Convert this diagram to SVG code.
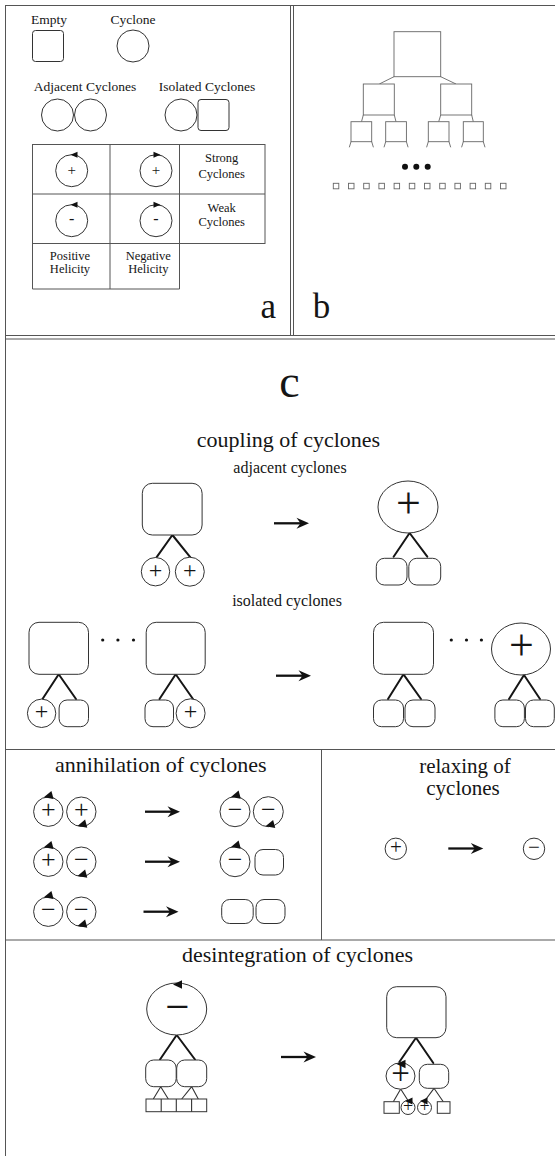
<svg xmlns="http://www.w3.org/2000/svg" xmlns:xlink="http://www.w3.org/1999/xlink" width="555" height="1156" viewBox="0 0 555 1156">
<defs>
<style>
.t{font-family:"Liberation Serif","Times New Roman",serif;fill:#151515}
.m{text-anchor:middle}
.s13{font-size:13.5px}.s12{font-size:12.5px}.s16{font-size:16px}.s22{font-size:22px}.s21{font-size:21px}.s35{font-size:35px}.s46{font-size:46px}
.fr{stroke:#555;stroke-width:1;fill:none}
.n{fill:#fff;stroke:#333;stroke-width:1}
.tb{fill:#fff;stroke:#666;stroke-width:0.9}
.tl{stroke:#666;stroke-width:0.9;fill:none}
.e{stroke:#151515;stroke-width:2;fill:none;stroke-linecap:round}
.e1{stroke:#333;stroke-width:1.1;fill:none}
.ah{fill:#111}
</style>
<path id="hs" d="M0,0 L7,-3 L7,3 Z"/>
<path id="hm" d="M0,0 L9,-4.2 L9,4.2 Z"/>
<path id="hx" d="M0,0 L7.5,-3.4 L7.5,3.4 Z"/>
<g id="arr"><line x1="0" y1="0" x2="30" y2="0" stroke="#111" stroke-width="2.3"/><path d="M35,0 L22.5,-5.5 L26.5,0 L22.5,5.5 Z" fill="#111"/></g>
</defs>
<rect width="555" height="1156" fill="#fff"/>

<g id="frame">
<line class="fr" x1="5" y1="5.5" x2="555" y2="5.5"/>
<line class="fr" x1="5.5" y1="5" x2="5.5" y2="1156"/>
<line class="fr" x1="290.5" y1="5" x2="290.5" y2="335.5"/>
<line class="fr" x1="293.5" y1="5" x2="293.5" y2="335.5"/>
<line class="fr" x1="5" y1="335.5" x2="555" y2="335.5"/>
<line class="fr" x1="5" y1="339" x2="555" y2="339"/>
<line class="fr" x1="5" y1="749.5" x2="555" y2="749.5"/>
<line class="fr" x1="321.5" y1="749.5" x2="321.5" y2="940"/>
<line class="fr" x1="5" y1="940" x2="555" y2="940"/>
</g>

<!-- Panel a -->
<g id="legend-empty">
<text class="t s13 m" x="49" y="24">Empty</text>
<rect class="n" x="32.5" y="30.5" width="31" height="31" rx="3"/>
</g>
<g id="legend-cyclone">
<text class="t s13 m" x="133" y="24">Cyclone</text>
<circle class="n" cx="133" cy="46" r="16"/>
</g>
<g id="legend-adjacent">
<text class="t s13 m" x="85" y="91">Adjacent Cyclones</text>
<circle class="n" cx="57.5" cy="115" r="16"/>
<circle class="n" cx="90.5" cy="115" r="16"/>
</g>
<g id="legend-isolated">
<text class="t s13 m" x="207" y="91">Isolated Cyclones</text>
<circle class="n" cx="181" cy="115" r="16"/>
<rect class="n" x="198" y="99.5" width="31" height="31" rx="3"/>
</g>
<g id="helicity-table">
<rect class="fr" x="32.5" y="144.5" width="232.5" height="99" stroke="#444"/>
<line class="fr" x1="32.5" y1="194" x2="265" y2="194" stroke="#444"/>
<line class="fr" x1="110" y1="144.5" x2="110" y2="289" stroke="#444"/>
<line class="fr" x1="179.5" y1="144.5" x2="179.5" y2="289" stroke="#444"/>
<line class="fr" x1="32.5" y1="243.5" x2="32.5" y2="289" stroke="#444"/>
<line class="fr" x1="32.5" y1="289" x2="179.5" y2="289" stroke="#444"/>
<text class="t s12 m" x="221.7" y="162">Strong</text>
<text class="t s12 m" x="221.7" y="177.7">Cyclones</text>
<text class="t s12 m" x="221.7" y="211.7">Weak</text>
<text class="t s12 m" x="221.7" y="226">Cyclones</text>
<text class="t s12 m" x="70" y="260">Positive</text>
<text class="t s12 m" x="70" y="272.7">Helicity</text>
<text class="t s12 m" x="148.3" y="260">Negative</text>
<text class="t s12 m" x="148.3" y="272.7">Helicity</text>
</g>
<g id="strong-positive">
<circle class="n" cx="71.7" cy="170.7" r="16"/>
<text class="t m" font-size="15" x="71.7" y="174.5">+</text>
<use href="#hs" class="ah" x="70.5" y="154.7"/>
</g>
<g id="strong-negative">
<circle class="n" cx="156" cy="170.7" r="16"/>
<text class="t m" font-size="15" x="156" y="174.5">+</text>
<use href="#hs" class="ah" transform="translate(160.5,154.7) scale(-1,1)"/>
</g>
<g id="weak-positive">
<circle class="n" cx="71.7" cy="220.7" r="16"/>
<text class="t m" font-size="16" x="71.7" y="224.3">-</text>
<use href="#hs" class="ah" x="70.5" y="204.7"/>
</g>
<g id="weak-negative">
<circle class="n" cx="156" cy="220.7" r="16"/>
<text class="t m" font-size="16" x="156" y="224.3">-</text>
<use href="#hs" class="ah" transform="translate(160.5,204.7) scale(-1,1)"/>
</g>
<text class="t s35 m" x="268.3" y="318">a</text>

<!-- Panel b -->
<g id="tree-connectors">
<line class="tl" x1="394" y1="76.7" x2="379.3" y2="84"/>
<line class="tl" x1="440.7" y1="76.7" x2="456" y2="84"/>
<line class="tl" x1="363.3" y1="115" x2="361.5" y2="121.7"/>
<line class="tl" x1="394.3" y1="115" x2="396" y2="121.7"/>
<line class="tl" x1="440.7" y1="115" x2="438.7" y2="121.7"/>
<line class="tl" x1="471.7" y1="115" x2="473.3" y2="121.7"/>
<path class="tl" d="M351,141.7 L349.3,147.3 M371.7,141.7 L373.4,147.3 M385.7,141.7 L384,147.3 M406.4,141.7 L408.1,147.3 M428.3,141.7 L426.6,147.3 M449,141.7 L450.7,147.3 M463.3,141.7 L461.6,147.3 M483.3,141.7 L485,147.3"/>
</g>
<g id="tree-root"><rect class="tb" x="394" y="31.7" width="46.7" height="45"/></g>
<g id="tree-l1-left"><rect class="tb" x="363.3" y="84" width="31" height="31"/></g>
<g id="tree-l1-right"><rect class="tb" x="440.7" y="84" width="31" height="31"/></g>
<g id="tree-l2-1"><rect class="tb" x="351" y="121.7" width="20.7" height="20"/></g>
<g id="tree-l2-2"><rect class="tb" x="385.7" y="121.7" width="20.7" height="20"/></g>
<g id="tree-l2-3"><rect class="tb" x="428.3" y="121.7" width="20.7" height="20"/></g>
<g id="tree-l2-4"><rect class="tb" x="463.3" y="121.7" width="20" height="20"/></g>
<g id="tree-dots" fill="#111">
<circle cx="405" cy="166.7" r="3"/><circle cx="416.3" cy="166.7" r="3"/><circle cx="427.7" cy="166.7" r="3"/>
</g>
<g id="tree-leaves" class="tb">
<rect x="333.3" y="183.3" width="5.5" height="5.5"/><rect x="348.5" y="183.3" width="5.5" height="5.5"/>
<rect x="363.7" y="183.3" width="5.5" height="5.5"/><rect x="378.9" y="183.3" width="5.5" height="5.5"/>
<rect x="394.1" y="183.3" width="5.5" height="5.5"/><rect x="409.3" y="183.3" width="5.5" height="5.5"/>
<rect x="424.5" y="183.3" width="5.5" height="5.5"/><rect x="439.7" y="183.3" width="5.5" height="5.5"/>
<rect x="454.9" y="183.3" width="5.5" height="5.5"/><rect x="470.1" y="183.3" width="5.5" height="5.5"/>
<rect x="485.3" y="183.3" width="5.5" height="5.5"/><rect x="500.5" y="183.3" width="5.5" height="5.5"/>
</g>
<text class="t s35 m" x="321.5" y="318">b</text>

<!-- Panel c -->
<text class="t s46 m" x="289.5" y="397">c</text>
<text class="t s22 m" x="288.5" y="446.5">coupling of cyclones</text>
<text class="t s16 m" x="290" y="473">adjacent cyclones</text>
<text class="t s16 m" x="287" y="605.7">isolated cyclones</text>
<text class="t s22 m" x="160.8" y="771.7">annihilation of cyclones</text>
<text class="t s21 m" x="465" y="772.5">relaxing of</text>
<text class="t s21 m" x="463" y="795">cyclones</text>
<text class="t s22 m" x="297.5" y="962">desintegration of cyclones</text>

<g id="connectors">
<!-- coupling adjacent -->
<path class="e" d="M172.4,535 L155.8,558.3 M172.4,535 L191.2,558.3"/>
<path class="e" d="M409.6,533 L393.6,556.7 M409.6,533 L427.3,556.7"/>
<use href="#arr" x="274" y="523.3"/>
<!-- coupling isolated -->
<path class="e" d="M58.7,674.3 L42.5,699 M58.7,674.3 L76,699"/>
<path class="e" d="M175.7,674.3 L159.5,699 M175.7,674.3 L193,699"/>
<use href="#arr" x="276" y="675.7"/>
<path class="e" d="M403.5,674.3 L388,699 M403.5,674.3 L421,699"/>
<path class="e" d="M524,675 L509,699 M524,675 L540,699"/>
<!-- annihilation -->
<use href="#arr" x="145" y="811.7"/>
<use href="#arr" x="145" y="861.7"/>
<use href="#arr" x="143.5" y="911.7"/>
<!-- relaxing -->
<use href="#arr" x="448.3" y="848.5"/>
<!-- desintegration -->
<path class="e" d="M176.7,1035 L160,1059.5 M176.7,1035 L195,1059.5"/>
<path class="e1" d="M160.7,1086.7 L153.3,1099 M160.7,1086.7 L168.3,1099 M191.7,1086.7 L181.7,1099 M191.7,1086.7 L198.3,1099"/>
<use href="#arr" x="281" y="1057"/>
<path class="e" d="M416,1037.7 L399.3,1062 M416,1037.7 L433.3,1063"/>
<path class="e1" d="M400.7,1089 L393.3,1101.7 M400.7,1089 L408,1100.5 M434,1088.3 L425,1100.5 M434,1088.3 L443.3,1101.7"/>
</g>

<g id="adj-before-parent"><rect class="n" x="142.3" y="483.3" width="59.8" height="51.7" rx="10"/></g>
<g id="adj-before-child1"><circle class="n" cx="155.5" cy="571.7" r="14.2"/><text class="t m" font-size="24" x="155.5" y="577.7">+</text></g>
<g id="adj-before-child2"><circle class="n" cx="189.8" cy="571.7" r="14.5"/><text class="t m" font-size="24" x="189.8" y="577.7">+</text></g>
<g id="adj-after-parent"><ellipse class="n" cx="408" cy="507" rx="30" ry="26"/><text class="t m" font-size="44" x="408.5" y="518">+</text></g>
<g id="adj-after-child1"><rect class="n" x="376.3" y="558.3" width="30.7" height="26.7" rx="8"/></g>
<g id="adj-after-child2"><rect class="n" x="408.8" y="558.3" width="31.9" height="26.7" rx="8"/></g>

<g id="iso-before-parent1"><rect class="n" x="29" y="622.3" width="59.5" height="52" rx="10"/></g>
<g id="iso-before-child1a"><circle class="n" cx="41.6" cy="713.3" r="14.2"/><text class="t m" font-size="24" x="41.6" y="719.3">+</text></g>
<g id="iso-before-child1b"><rect class="n" x="59.1" y="700" width="29.4" height="26.7" rx="8"/></g>
<g id="iso-before-dots" fill="#111"><circle cx="102.7" cy="640" r="1.6"/><circle cx="117.9" cy="640" r="1.6"/><circle cx="133.5" cy="640" r="1.6"/></g>
<g id="iso-before-parent2"><rect class="n" x="146.2" y="622.3" width="59" height="52" rx="10"/></g>
<g id="iso-before-child2a"><rect class="n" x="145" y="700" width="28.5" height="26.7" rx="8"/></g>
<g id="iso-before-child2b"><circle class="n" cx="190.6" cy="713.3" r="14.5"/><text class="t m" font-size="24" x="190.6" y="719.3">+</text></g>
<g id="iso-after-parent1"><rect class="n" x="373.5" y="622.3" width="60" height="52" rx="10"/></g>
<g id="iso-after-child1a"><rect class="n" x="373.5" y="700" width="30" height="26.7" rx="8"/></g>
<g id="iso-after-child1b"><rect class="n" x="405" y="700" width="30" height="26.7" rx="8"/></g>
<g id="iso-after-dots" fill="#111"><circle cx="451.3" cy="640" r="1.6"/><circle cx="466.5" cy="640" r="1.6"/><circle cx="481.4" cy="640" r="1.6"/></g>
<g id="iso-after-parent2"><ellipse class="n" cx="521" cy="649" rx="29.5" ry="26"/><text class="t m" font-size="44" x="521.5" y="660">+</text></g>
<g id="iso-after-child2a"><rect class="n" x="494.9" y="700" width="29.5" height="26.7" rx="8"/></g>
<g id="iso-after-child2b"><rect class="n" x="525.5" y="700" width="28.8" height="26.7" rx="8"/></g>

<!-- annihilation -->
<g id="ann-r1-a"><circle class="n" cx="48.3" cy="811.7" r="14.7"/><text class="t m" font-size="26" x="48.3" y="818.2">+</text><use href="#hm" class="ah" transform="translate(43.8,797.3) rotate(-15)"/></g>
<g id="ann-r1-b"><circle class="n" cx="81.3" cy="811.7" r="14.7"/><text class="t m" font-size="26" x="81.3" y="818.2">+</text><use href="#hm" class="ah" transform="translate(77.5,826) rotate(-15)"/></g>
<g id="ann-r1-c"><circle class="n" cx="235" cy="811.7" r="15"/><text class="t m" font-size="26" x="235" y="818.2">−</text><use href="#hm" class="ah" transform="translate(231,797) rotate(-15)"/></g>
<g id="ann-r1-d"><circle class="n" cx="268.3" cy="811.7" r="15"/><text class="t m" font-size="26" x="268.3" y="818.2">−</text><use href="#hm" class="ah" transform="translate(265.5,826.3) rotate(-15)"/></g>
<g id="ann-r2-a"><circle class="n" cx="48.3" cy="861.7" r="14.7"/><text class="t m" font-size="26" x="48.3" y="868.2">+</text><use href="#hm" class="ah" transform="translate(43.8,847.3) rotate(-15)"/></g>
<g id="ann-r2-b"><circle class="n" cx="81.3" cy="861.7" r="14.7"/><text class="t m" font-size="26" x="81.3" y="868.2">−</text><use href="#hm" class="ah" transform="translate(77.5,876) rotate(-15)"/></g>
<g id="ann-r2-c"><circle class="n" cx="235" cy="861.7" r="15"/><text class="t m" font-size="26" x="235" y="868.2">−</text><use href="#hm" class="ah" transform="translate(231,847) rotate(-15)"/></g>
<g id="ann-r2-d"><rect class="n" x="255" y="849.5" width="28.5" height="25.5" rx="8"/></g>
<g id="ann-r3-a"><circle class="n" cx="48.3" cy="911.7" r="14.7"/><text class="t m" font-size="26" x="48.3" y="918.2" fill="#444">−</text><use href="#hm" class="ah" transform="translate(43.8,897.3) rotate(-15)"/></g>
<g id="ann-r3-b"><circle class="n" cx="81.3" cy="911.7" r="14.7"/><text class="t m" font-size="26" x="81.3" y="918.2">−</text><use href="#hm" class="ah" transform="translate(77.5,926) rotate(-15)"/></g>
<g id="ann-r3-c"><rect class="n" x="221.7" y="899.5" width="31.5" height="24" rx="8"/></g>
<g id="ann-r3-d"><rect class="n" x="256" y="899.5" width="29" height="24" rx="8"/></g>

<!-- relaxing -->
<g id="relax-before"><circle class="n" cx="395.8" cy="848.8" r="10.7"/><text class="t m" font-size="21" x="395.8" y="854">+</text></g>
<g id="relax-after"><circle class="n" cx="534" cy="848.8" r="10.7"/><text class="t m" font-size="21" x="534" y="854">−</text></g>

<!-- desintegration -->
<g id="des-before-parent"><ellipse class="n" cx="176.7" cy="1009" rx="30" ry="26"/><text class="t m" font-size="43" x="177.5" y="1020.7">−</text><use href="#hm" class="ah" x="173" y="984.5"/></g>
<g id="des-before-child1"><rect class="n" x="145.7" y="1060" width="30.5" height="26.7" rx="8"/></g>
<g id="des-before-child2"><rect class="n" x="176.7" y="1060" width="30" height="26.7" rx="8"/></g>
<g id="des-before-leaves">
<rect class="n" x="146" y="1099" width="60.7" height="12.7"/>
<path class="e1" d="M161.2,1099 V1111.7 M176.3,1099 V1111.7 M191.6,1099 V1111.7"/>
</g>
<g id="des-after-parent"><rect class="n" x="386.7" y="986.7" width="59.3" height="51" rx="10"/></g>
<g id="des-after-child1"><ellipse class="n" cx="400.5" cy="1076" rx="14.5" ry="13.2"/><text class="t m" font-size="33" x="400.5" y="1084.2">+</text><use href="#hm" class="ah" x="396.5" y="1064"/></g>
<g id="des-after-child2"><rect class="n" x="419.3" y="1064.3" width="29.4" height="24" rx="8"/></g>
<g id="des-after-leaf1"><rect class="n" x="384" y="1101.7" width="15.3" height="11.6"/></g>
<g id="des-after-leaf2"><circle class="n" cx="408" cy="1107.5" r="7"/><text class="t m" font-size="18" x="408" y="1112">+</text><use href="#hx" class="ah" x="405" y="1101"/></g>
<g id="des-after-leaf3"><circle class="n" cx="424.5" cy="1107.5" r="7"/><text class="t m" font-size="18" x="424.5" y="1112">+</text><use href="#hx" class="ah" x="420" y="1101"/></g>
<g id="des-after-leaf4"><rect class="n" x="437.3" y="1101.7" width="12.7" height="11.6"/></g>
</svg>
